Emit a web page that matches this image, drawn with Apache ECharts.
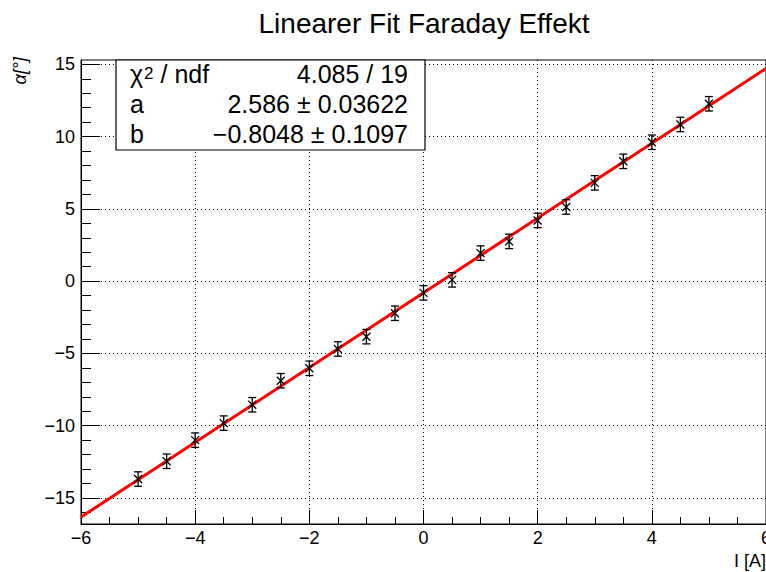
<!DOCTYPE html>
<html>
<head>
<meta charset="utf-8">
<title>Linearer Fit Faraday Effekt</title>
<script src="https://cdn.jsdelivr.net/npm/echarts@6/dist/echarts.min.js"></script>
<style>
  html, body { margin: 0; padding: 0; background: #fff; }
  #chart { width: 766px; height: 572px; }
</style>
</head>
<body>
<div id="chart"></div>
<script>
// Measured currents I [A]
const current = [-5, -4.5, -4, -3.5, -3, -2.5, -2, -1.5, -1, -0.5, 0,
                 0.5, 1, 1.5, 2, 2.5, 3, 3.5, 4, 4.5, 5];
// Rotation angle alpha [deg]
const angle = [-13.69, -12.46, -11.0, -9.82, -8.55, -6.89, -6.03, -4.69, -3.84, -2.22, -0.81,
               0.09, 1.94, 2.75, 4.2, 5.13, 6.8, 8.29, 9.61, 10.84, 12.27];
// Uncertainty of each angle reading [deg]
const angleErr = [0.5, 0.5, 0.5, 0.5, 0.5, 0.5, 0.5, 0.5, 0.5, 0.5, 0.5,
                  0.5, 0.5, 0.5, 0.5, 0.5, 0.5, 0.5, 0.5, 0.5, 0.5];

// Fit result: alpha = a * I + b
const fitA = 2.586, fitAErr = 0.03622;
const fitB = -0.8048, fitBErr = 0.1097;
const chi2 = 4.085, ndf = 19;
const fitRange = [-6, 6];

// Axis ticks
const yTicks = [-15, -10, -5, 0, 5, 10, 15];
const yMinorTicks = [-16, -14, -13, -12, -11, -9, -8, -7, -6, -4, -3, -2, -1,
                     1, 2, 3, 4, 6, 7, 8, 9, 11, 12, 13, 14];
const yRange = [-16.8, 15.3];

const FONT = "'Liberation Sans', Arial, Helvetica, sans-serif";
const minus = v => String(v).replace('-', '\u2212');

const points = current.map((x, i) => [x, angle[i], angleErr[i]]);
const fitLine = fitRange.map(x => [x, fitA * x + fitB]);

const statRows = [
  ['{t|\u03c7}{s|2}{t| / ndf}', chi2.toFixed(3) + ' / ' + ndf],
  ['{t|a}', fitA + ' \u00b1 ' + fitAErr],
  ['{t|b}', minus(fitB) + ' \u00b1 ' + fitBErr]
];

const chart = echarts.init(document.getElementById('chart'), null, { renderer: 'svg' });

const box = { left: 116, top: 60, width: 309, height: 90 };
const statGraphics = [{
  type: 'rect', z: 100,
  shape: { x: box.left, y: box.top, width: box.width, height: box.height },
  style: { fill: '#fff', stroke: '#000', lineWidth: 1.2 }
}];
statRows.forEach((row, i) => {
  const cy = 73.5 + i * 30;
  statGraphics.push({
    type: 'text', z: 101, x: 130, y: cy,
    style: {
      text: row[0], fill: '#000', textAlign: 'left', textVerticalAlign: 'middle',
      rich: {
        t: { fontFamily: FONT, fontSize: 25, color: '#000', height: 30, verticalAlign: 'middle' },
        s: { fontFamily: FONT, fontSize: 17, color: '#000', height: 30, verticalAlign: 'top', padding: [0, 0, 0, 1] }
      }
    }
  });
  statGraphics.push({
    type: 'text', z: 101, x: 408, y: cy,
    style: { text: row[1], font: '25px ' + FONT, fill: '#000', textAlign: 'right', textVerticalAlign: 'middle' }
  });
});

const axisLabelStyle = { fontFamily: FONT, fontSize: 18, color: '#000' };
const gridLine = { show: true, lineStyle: { color: '#000', width: 1, type: [1, 3] } };

chart.setOption({
  animation: false,
  backgroundColor: '#fff',
  grid: {
    left: 81, right: 0, top: 60, bottom: 48,
    containLabel: false, outerBoundsMode: 'none',
    show: true, borderColor: '#000', borderWidth: 1
  },
  xAxis: {
    type: 'value', min: -6, max: 6, interval: 2,
    axisLine: { show: true, onZero: false, lineStyle: { color: '#000', width: 1 } },
    axisTick: { show: true, inside: true, length: 14, lineStyle: { color: '#000', width: 1 } },
    minorTick: { show: true, splitNumber: 4, length: 7, lineStyle: { color: '#000', width: 1 } },
    axisLabel: Object.assign({ margin: 5, formatter: v => minus(v) }, axisLabelStyle),
    splitLine: gridLine
  },
  yAxis: [{
    type: 'value', min: yRange[0], max: yRange[1], splitNumber: 6,
    axisLine: { show: true, onZero: false, lineStyle: { color: '#000', width: 1 } },
    axisTick: { show: true, inside: true, length: 19, customValues: yTicks, lineStyle: { color: '#000', width: 1 } },
    axisLabel: Object.assign({ margin: 6, customValues: yTicks, formatter: v => minus(v) }, axisLabelStyle),
    splitLine: gridLine
  }, {
    type: 'value', min: yRange[0], max: yRange[1], position: 'left', offset: 0,
    axisLine: { show: false, onZero: false },
    axisTick: { show: true, inside: true, length: 10, customValues: yMinorTicks, lineStyle: { color: '#000', width: 1 } },
    axisLabel: { show: false },
    splitLine: { show: false }
  }],
  graphic: [
    {
      type: 'text', x: 424, y: 23,
      style: { text: 'Linearer Fit Faraday Effekt', font: '28px ' + FONT, fill: '#000', textAlign: 'center', textVerticalAlign: 'middle' }
    },
    {
      type: 'text', x: 766, y: 561,
      style: { text: 'I [A]', font: '18px ' + FONT, fill: '#000', textAlign: 'right', textVerticalAlign: 'middle' }
    },
    {
      type: 'text', x: 20, y: 57, rotation: Math.PI / 2,
      style: { text: '\u03b1[\u00b0]', font: 'italic 18px ' + FONT, fill: '#000', textAlign: 'right', textVerticalAlign: 'middle' }
    }
  ].concat(statGraphics),
  series: [{
    type: 'line',
    data: fitLine,
    showSymbol: false,
    clip: true,
    z: 3,
    lineStyle: { color: '#ff0000', width: 3 }
  }, {
    type: 'custom',
    data: points,
    encode: { x: 0, y: 1 },
    z: 4,
    clip: true,
    renderItem: function (params, api) {
      const x = api.value(0), y = api.value(1), e = api.value(2);
      const p = api.coord([x, y]);
      const hi = api.coord([x, y + e]);
      const lo = api.coord([x, y - e]);
      const cap = 4, m = 4;
      const st = { stroke: '#000', lineWidth: 1.3 };
      return {
        type: 'group',
        children: [
          { type: 'line', shape: { x1: p[0], y1: hi[1], x2: p[0], y2: lo[1] }, style: st },
          { type: 'line', shape: { x1: p[0] - cap, y1: hi[1], x2: p[0] + cap, y2: hi[1] }, style: st },
          { type: 'line', shape: { x1: p[0] - cap, y1: lo[1], x2: p[0] + cap, y2: lo[1] }, style: st },
          { type: 'line', shape: { x1: p[0] - m, y1: p[1] - m, x2: p[0] + m, y2: p[1] + m }, style: st },
          { type: 'line', shape: { x1: p[0] - m, y1: p[1] + m, x2: p[0] + m, y2: p[1] - m }, style: st }
        ]
      };
    }
  }]
});
</script>
</body>
</html>
